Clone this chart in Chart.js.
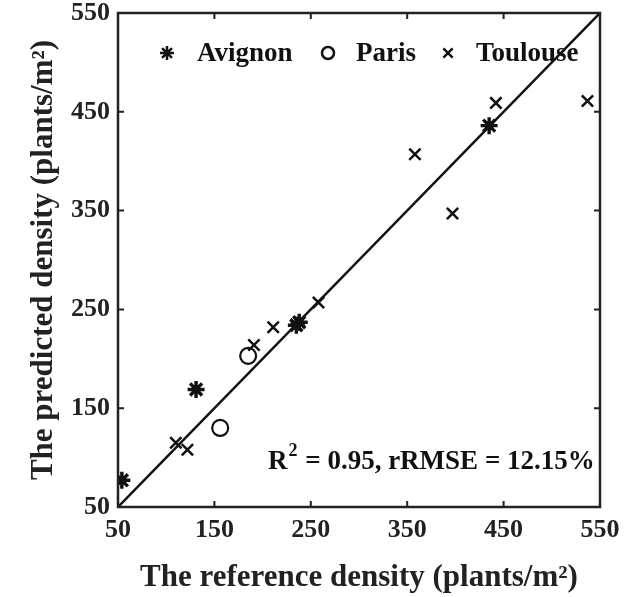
<!DOCTYPE html>
<html>
<head>
<meta charset="utf-8">
<script src="https://cdn.jsdelivr.net/npm/chart.js@4.4.1/dist/chart.umd.min.js"></script>
<style>
  html, body { margin: 0; padding: 0; background: #fff; }
  #wrap { width: 637px; height: 597px; }
</style>
</head>
<body>
<div id="wrap"><canvas id="densityChart" width="637" height="597"></canvas></div>
<script>
// reference vs predicted density
const avignonRef  = [54, 131, 235, 238, 435];
const avignonPred = [77, 169, 234, 237, 436];

const parisRef  = [156, 185];
const parisPred = [130, 203];

const toulouseRef  = [110, 122, 191, 211, 258, 358, 397, 442, 537];
const toulousePred = [115, 108, 214, 232, 257, 407, 347, 459, 461];

const axisTicks = [50, 150, 250, 350, 450, 550];
const oneToOne = [50, 550];

const FONT = '"Liberation Serif", "Times New Roman", serif';

function toPoints(xs, ys){
    return xs.map((x, i) => ({x: x, y: ys[i]}));
}

// inward ticks, box border, legend and stats text
const decorations = {
    id: 'decorations',
    afterDatasetsDraw(chart){
        const c = chart.ctx;
        const a = chart.chartArea;
        const xs = chart.scales.x, ys = chart.scales.y;
        c.save();
        c.strokeStyle = '#222';
        c.lineWidth = 2;
        axisTicks.forEach(t => {
            let px = xs.getPixelForValue(t);
            let py = ys.getPixelForValue(t);
            c.beginPath();
            c.moveTo(px, a.bottom); c.lineTo(px, a.bottom - 6);
            c.moveTo(px, a.top); c.lineTo(px, a.top + 6);
            c.moveTo(a.left, py); c.lineTo(a.left + 6, py);
            c.moveTo(a.right, py); c.lineTo(a.right - 6, py);
            c.stroke();
        });
        c.lineWidth = 2.5;
        c.strokeRect(a.left, a.top, a.right - a.left, a.bottom - a.top);

        // legend
        c.font = 'bold 27px ' + FONT;
        c.textBaseline = 'middle';
        const ly = a.top + 40;
        const items = [
            {style: 'star', x: 167, label: 'Avignon', tx: 197, r: 7, w: 3},
            {style: 'circle', x: 328, label: 'Paris', tx: 356, r: 6, w: 2},
            {style: 'crossRot', x: 448, label: 'Toulouse', tx: 476, r: 6.5, w: 2.5}
        ];
        items.forEach(it => {
            c.strokeStyle = '#111';
            c.fillStyle = 'rgba(0,0,0,0)';
            Chart.helpers.drawPoint(c, {pointStyle: it.style, radius: it.r, borderWidth: it.w}, it.x, ly);
            c.fillStyle = '#111';
            c.fillText(it.label, it.tx, ly + 1);
        });

        // stats text
        c.fillStyle = '#111';
        c.font = 'bold 27px ' + FONT;
        c.textBaseline = 'alphabetic';
        const sy = 469;
        let x = 268;
        c.fillText('R', x, sy);
        x += c.measureText('R').width;
        c.font = 'bold 18px ' + FONT;
        c.fillText('2', x + 1, sy - 13);
        x += c.measureText('2').width + 2;
        c.font = 'bold 27px ' + FONT;
        c.fillText(' = 0.95, rRMSE = 12.15%', x, sy);
        c.restore();
    }
};

const ctx = document.getElementById('densityChart').getContext('2d');

new Chart(ctx, {
    type: 'scatter',
    data: {
        datasets: [
            {
                label: '1:1',
                data: toPoints(oneToOne, oneToOne),
                showLine: true,
                borderColor: '#111',
                borderWidth: 2.5,
                pointRadius: 0,
                order: 5
            },
            {
                label: 'Avignon',
                data: toPoints(avignonRef, avignonPred),
                pointStyle: 'star',
                pointRadius: 8.5,
                borderColor: '#111',
                backgroundColor: '#111',
                pointBorderWidth: 3.4
            },
            {
                label: 'Paris',
                data: toPoints(parisRef, parisPred),
                pointStyle: 'circle',
                pointRadius: 8,
                borderColor: '#111',
                backgroundColor: 'rgba(0,0,0,0)',
                pointBorderWidth: 2.2
            },
            {
                label: 'Toulouse',
                data: toPoints(toulouseRef, toulousePred),
                pointStyle: 'crossRot',
                pointRadius: 8,
                borderColor: '#111',
                pointBorderWidth: 2.5
            }
        ]
    },
    options: {
        responsive: false,
        animation: false,
        layout: { padding: { top: 13, right: 37, left: 0, bottom: 0 } },
        plugins: {
            legend: { display: false },
            tooltip: { enabled: false }
        },
        scales: {
            x: {
                type: 'linear',
                min: 50, max: 550,
                afterBuildTicks: s => { s.ticks = axisTicks.map(v => ({value: v})); },
                afterFit: s => { s.height = 90; s.paddingLeft = 0; s.paddingRight = 0; },
                grid: { display: false, drawTicks: false },
                border: { display: false },
                ticks: {
                    color: '#222',
                    padding: 8,
                    font: { family: FONT, size: 26, weight: 'bold' }
                },
                title: {
                    display: true,
                    text: 'The reference density (plants/m²)',
                    color: '#222',
                    padding: { top: 4, bottom: 0 },
                    font: { family: FONT, size: 31, weight: 'bold' }
                }
            },
            y: {
                type: 'linear',
                min: 50, max: 550,
                afterBuildTicks: s => { s.ticks = axisTicks.map(v => ({value: v})); },
                afterFit: s => { s.width = 118; s.paddingTop = 0; s.paddingBottom = 0; },
                grid: { display: false, drawTicks: false },
                border: { display: false },
                ticks: {
                    color: '#222',
                    padding: 8,
                    font: { family: FONT, size: 26, weight: 'bold' }
                },
                title: {
                    display: true,
                    text: 'The predicted density (plants/m²)',
                    color: '#222',
                    padding: { top: 25, bottom: 2 },
                    font: { family: FONT, size: 31, weight: 'bold' }
                }
            }
        }
    },
    plugins: [decorations]
});
</script>
</body>
</html>
